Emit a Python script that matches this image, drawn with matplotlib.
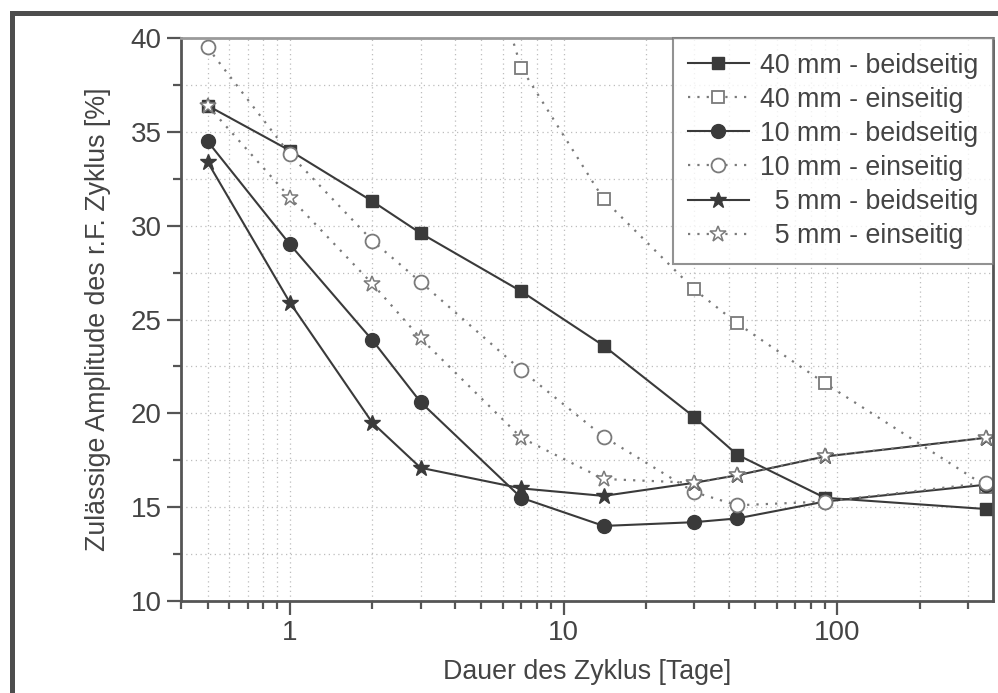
import numpy as np
import matplotlib
matplotlib.use("Agg")
import matplotlib.pyplot as plt
from matplotlib.ticker import MultipleLocator, LogLocator, NullFormatter, FixedLocator, FixedFormatter
from matplotlib.patches import Rectangle

plt.rcParams['font.family'] = ['Liberation Sans', 'DejaVu Sans']

days = [0.5, 1, 2, 3, 7, 14, 30, 43, 90, 350]
b40 = [36.4, 34.0, 31.3, 29.6, 26.5, 23.6, 19.8, 17.8, 15.5, 14.9]
e40 = [np.nan, np.nan, np.nan, 56.0, 38.4, 31.4, 26.6, 24.8, 21.6, 16.1]
b10 = [34.5, 29.0, 23.9, 20.6, 15.5, 14.0, 14.2, 14.4, 15.3, 16.2]
e10 = [39.5, 33.8, 29.2, 27.0, 22.3, 18.75, 15.8, 15.1, 15.3, 16.3]
b5 = [33.4, 25.9, 19.5, 17.1, 16.0, 15.6, 16.3, 16.7, 17.7, 18.7]
e5 = [36.4, 31.5, 26.9, 24.0, 18.7, 16.5, 16.3, 16.7, 17.7, 18.7]

labels = ["40 mm - beidseitig", "40 mm - einseitig",
          "10 mm - beidseitig", "10 mm - einseitig",
          "  5 mm - beidseitig", "  5 mm - einseitig"]

x_ticks = [1, 10, 100]
x_ticklabels = ["1", "10", "100"]
y_ticks = [10, 15, 20, 25, 30, 35, 40]

dark = '#3a3a3a'
light = '#7a7a7a'
txt = '#444444'
fs = 19.3

fig = plt.figure(figsize=(9.98, 6.93), dpi=100)
ax = fig.add_axes([181/998, 1-601/693, (993-181)/998, (601-38)/693])

dot = (0, (1, 3.2))
ax.plot(days, b40, color=dark, lw=1.5, marker='s', ms=8.5, mfc=dark, mec=dark, label=labels[0])
ax.plot(days, e40, color=light, lw=1.6, ls=dot, marker='s', ms=8.5, mfc='white', mec=light, mew=1.3, label=labels[1])
ax.plot(days, b10, color=dark, lw=1.5, marker='o', ms=10, mfc=dark, mec=dark, label=labels[2])
ax.plot(days, e10, color=light, lw=1.6, ls=dot, marker='o', ms=10, mfc='white', mec=light, mew=1.3, label=labels[3])
ax.plot(days, b5, color=dark, lw=1.5, marker='*', ms=12, mfc=dark, mec=dark, label=labels[4])
ax.plot(days, e5, color=light, lw=1.6, ls=dot, marker='*', ms=12, mfc='white', mec=light, mew=1.1, label=labels[5])

ax.set_xscale('log')
ax.set_xlim(0.4, 370)
ax.set_ylim(10, 40)

ax.xaxis.set_major_locator(FixedLocator(x_ticks))
ax.xaxis.set_major_formatter(FixedFormatter(x_ticklabels))
ax.xaxis.set_minor_locator(LogLocator(base=10, subs=np.arange(2, 10)))
ax.xaxis.set_minor_formatter(NullFormatter())
ax.yaxis.set_major_locator(FixedLocator(y_ticks))
ax.yaxis.set_minor_locator(MultipleLocator(2.5))

ax.grid(True, which='both', color='#bdbdbd', ls=(0, (1, 2.8)), lw=0.9)
ax.set_axisbelow(True)

ax.tick_params(which='major', direction='out', length=10, width=1.6, color='#555555',
               labelsize=20, labelcolor=txt, pad=4)
ax.tick_params(which='minor', direction='out', length=6, width=1.6, color='#555555')

for s in ['left', 'bottom', 'right']:
    ax.spines[s].set_color('#555555')
    ax.spines[s].set_linewidth(2)
ax.spines['top'].set_color('#9a9a9a')
ax.spines['top'].set_linewidth(2)

ax.set_xlabel("Dauer des Zyklus [Tage]", fontsize=fs, color=txt, labelpad=9)
ax.set_ylabel("Zulässige Amplitude des r.F. Zyklus [%]", fontsize=fs, color=txt, labelpad=14)

leg = ax.legend(loc='upper right', fontsize=fs, frameon=True, fancybox=False,
                borderaxespad=0, handlelength=2.3, numpoints=1, labelspacing=0.3,
                borderpad=0.55, handletextpad=0.4)
leg.get_frame().set_edgecolor('#777777')
leg.get_frame().set_linewidth(1.5)
for t in leg.get_texts():
    t.set_color(txt)

fig.patches.append(Rectangle((11.5/998, -0.1), 1.2, (693-13)/693 + 0.1,
                             transform=fig.transFigure, fill=False,
                             edgecolor='#4d4d4d', lw=3.6, zorder=0))

fig.savefig("out.png", dpi=100)
